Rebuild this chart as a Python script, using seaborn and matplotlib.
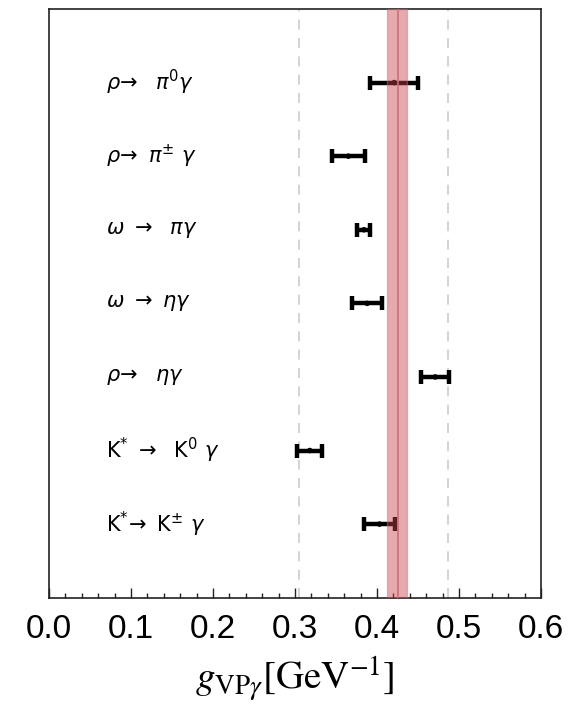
import numpy as np
import pandas as pd
import matplotlib
matplotlib.use("Agg")
import matplotlib.pyplot as plt
import seaborn as sns

# decay channels, top to bottom
channels = [r'$\rho\!\rightarrow\ \ \pi^{0}\gamma$',
            r'$\rho\!\rightarrow\ \pi^{\pm}\ \gamma$',
            r'$\omega\ \rightarrow\ \ \pi\gamma$',
            r'$\omega\ \rightarrow\ \eta\gamma$',
            r'$\rho\!\rightarrow\ \ \eta\gamma$',
            r'$\mathsf{K}^{*}\ \rightarrow\ \ \mathsf{K}^{0}\ \gamma$',
            r'$\mathsf{K}^{*}\!\rightarrow\ \mathsf{K}^{\pm}\ \gamma$']
g_vals = [0.421, 0.365, 0.384, 0.388, 0.471, 0.318, 0.403]
g_errs = [0.029, 0.020, 0.008, 0.018, 0.017, 0.015, 0.019]

# fitted coupling band and reference lines
band_center = 0.425
band_lo, band_hi = 0.412, 0.437
ref_lines = [0.305, 0.486]

xticks = [0.0, 0.1, 0.2, 0.3, 0.4, 0.5, 0.6]

df = pd.DataFrame({'channel': channels, 'g': g_vals, 'err': g_errs})
df['pos'] = np.arange(len(df), 0, -1)

sns.set_style('ticks')
plt.rcParams['mathtext.fontset'] = 'dejavusans'

fig = plt.figure(figsize=(5.88, 7.12), dpi=100)
ax = fig.add_axes([49/588, 1 - 597.7/712, 492/588, 588.7/712])

for x in ref_lines:
    ax.axvline(x, color='#cccccc', ls=(0, (6, 5)), lw=1.2, zorder=1)

ax.errorbar(df['g'], df['pos'], xerr=df['err'], fmt='none', ecolor='black',
            elinewidth=3.2, capsize=5, capthick=3.2, zorder=2)
sns.scatterplot(data=df, x='g', y='pos', color='black', s=16, ax=ax,
                edgecolor='none', zorder=3, legend=False)

ax.axvspan(band_lo, band_hi, facecolor='#c8404a', alpha=0.45,
           edgecolor='#c8707a', lw=1.0, zorder=4)
ax.axvline(band_center, color='#c8707a', lw=1.2, zorder=5)

for _, row in df.iterrows():
    ax.text(0.07, row['pos'], row['channel'], fontsize=15, ha='left',
            va='center', color='black')

ax.set_xlim(0, 0.6)
ax.set_ylim(0, len(df) + 1)
ax.set_yticks([])
ax.set_xticks(xticks)
ax.set_xticklabels([f'{t:.1f}' for t in xticks], family='Liberation Sans',
                   fontsize=24, color='black')
ax.set_xticks(np.arange(0, 0.601, 0.02), minor=True)
ax.tick_params(axis='x', which='major', direction='in', length=7, width=1,
               pad=12, color='#222222')
ax.tick_params(axis='x', which='minor', direction='in', length=3.5, width=1,
               color='#222222')
ax.set_ylabel('')
ax.set_xlabel(r'$g_{\mathrm{VP}\gamma}[\mathrm{GeV}^{-1}]$', fontsize=28,
              labelpad=6, color='black')
ax.xaxis.label.set_math_fontfamily('stix')
for s in ax.spines.values():
    s.set_linewidth(1.2)
    s.set_color('#222222')

fig.savefig('out.png', dpi=100)
